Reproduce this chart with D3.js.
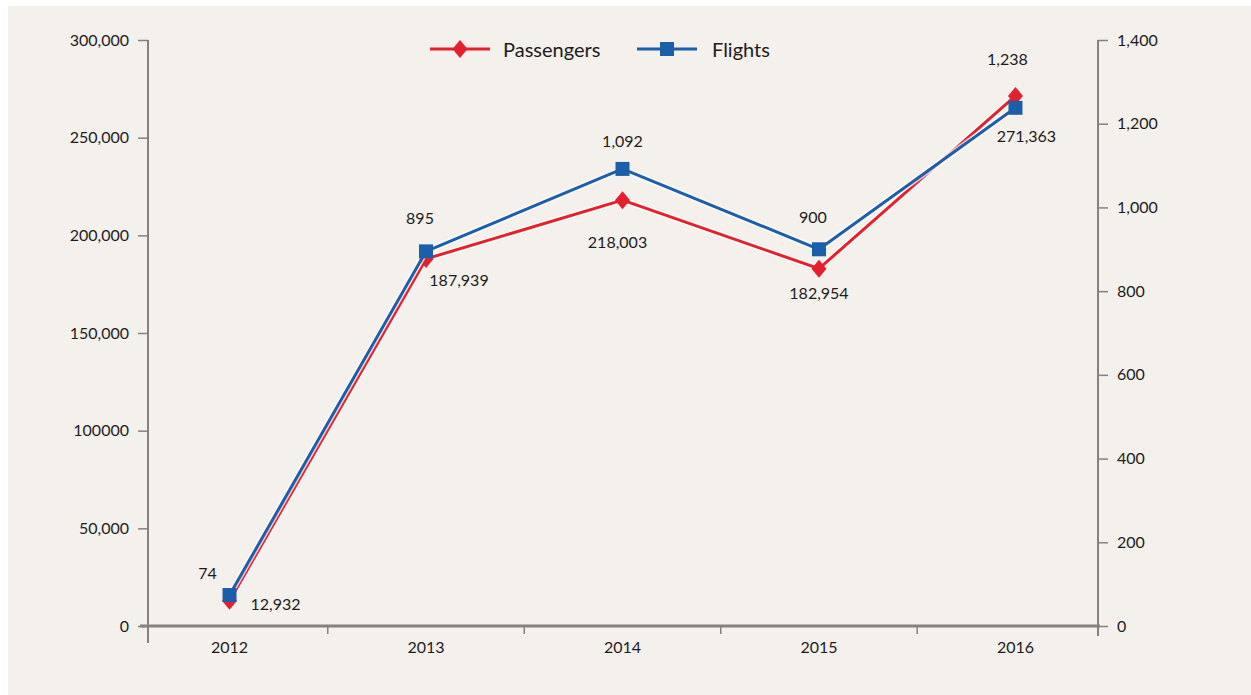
<!DOCTYPE html>
<html><head><meta charset="utf-8">
<script src="https://cdn.jsdelivr.net/npm/d3@7"></script>
<style>
body{margin:0;background:#fff}
text{font-family:Lato, "Open Sans", sans-serif;fill:#1e1b1c}
</style>
</head><body><svg id="chart" width="1251" height="695"></svg>
<script>
// Yearly passengers and flights
const years = ["2012", "2013", "2014", "2015", "2016"];
const passengers = [12932, 187939, 218003, 182954, 271363];
const flights = [74, 895, 1092, 900, 1238];
const passengerLabels = ["12,932", "187,939", "218,003", "182,954", "271,363"];
const flightLabels = ["74", "895", "1,092", "900", "1,238"];
const leftTicks = [0, 50000, 100000, 150000, 200000, 250000, 300000];
const leftTickLabels = ["0", "50,000", "100000", "150,000", "200,000", "250,000", "300,000"];
const rightTicks = [0, 200, 400, 600, 800, 1000, 1200, 1400];
const seriesNames = ["Passengers", "Flights"];

// value-label offsets from their point (layout only)
const passengerLabelOffset = [[46, 3], [33, 21], [-5, 41], [0, 24], [11, 40]];
const flightLabelOffset = [[-22, -23], [-6, -34], [0, -28], [-6, -33], [-8, -49]];

const RED = "#e5202c", BLUE = "#1b5fab", AXIS = "#84827d";

const svg = d3.select("#chart");
svg.append("rect").attr("x", 8).attr("y", 6).attr("width", 1243).attr("height", 689).attr("fill", "#f4f1ec");

const x = d3.scalePoint().domain(years).range([147, 1098]).padding(0.42);
const yL = d3.scaleLinear().domain([0, 300000]).range([626, 40]);
const yR = d3.scaleLinear().domain([0, 1400]).range([626, 40]);

// left axis
const gl = svg.append("g").attr("transform", "translate(148,0)")
  .call(d3.axisLeft(yL).tickValues(leftTicks).tickFormat((d, i) => leftTickLabels[i]).tickSize(10).tickPadding(9));
gl.select(".domain").remove();
gl.append("line").attr("x1", 0).attr("x2", 0).attr("y1", 40).attr("y2", 643).attr("stroke", AXIS).attr("stroke-width", 2);

// right axis
const gr = svg.append("g").attr("transform", "translate(1098,0)")
  .call(d3.axisRight(yR).tickValues(rightTicks).tickFormat(d3.format(",")).tickSize(10).tickPadding(9));
gr.select(".domain").remove();
gr.append("line").attr("x1", 0).attr("x2", 0).attr("y1", 40).attr("y2", 636).attr("stroke", AXIS).attr("stroke-width", 2);

[gl, gr].forEach(g => {
  g.selectAll(".tick line").attr("stroke", AXIS).attr("stroke-width", 1.5);
  g.selectAll(".tick text").style("font-size", "16px").attr("fill", "#1e1b1c");
});

// bottom axis: category labels, ticks between categories
const gx = svg.append("g").attr("transform", "translate(0,626)");
gx.append("line").attr("x1", 140).attr("x2", 1100).attr("stroke", AXIS).attr("stroke-width", 3);
const step = x.step();
gx.selectAll(".sep").data(years.slice(1)).join("line")
  .attr("x1", d => x(d) - step / 2).attr("x2", d => x(d) - step / 2)
  .attr("y1", 0).attr("y2", 8).attr("stroke", AXIS).attr("stroke-width", 1.5);
gx.selectAll(".yr").data(years).join("text")
  .attr("x", d => x(d)).attr("y", 27).attr("text-anchor", "middle")
  .style("font-size", "16px").text(d => d);

// series
const diamond = "M0,-9L7.5,0L0,9L-7.5,0Z";
const square = "M-7,-7H7V7H-7Z";

function drawSeries(values, scale, color, shape) {
  const line = d3.line().x((d, i) => x(years[i])).y(d => scale(d));
  svg.append("path").datum(values).attr("d", line).attr("fill", "none")
    .attr("stroke", "#ffffff").attr("stroke-opacity", 0.7).attr("stroke-width", 6).attr("stroke-linejoin", "round");
  svg.append("path").datum(values).attr("d", line).attr("fill", "none")
    .attr("stroke", color).attr("stroke-width", 3).attr("stroke-linejoin", "round");
  svg.selectAll(null).data(values).join("path")
    .attr("transform", (d, i) => `translate(${x(years[i])},${scale(d)})`)
    .attr("d", shape).attr("fill", color);
}
drawSeries(passengers, yL, RED, diamond);
drawSeries(flights, yR, BLUE, square);

// value labels
svg.selectAll(null).data(passengers).join("text")
  .attr("x", (d, i) => x(years[i]) + passengerLabelOffset[i][0])
  .attr("y", (d, i) => yL(d) + passengerLabelOffset[i][1])
  .attr("text-anchor", "middle").attr("dominant-baseline", "central")
  .style("font-size", "16px").text((d, i) => passengerLabels[i]);
svg.selectAll(null).data(flights).join("text")
  .attr("x", (d, i) => x(years[i]) + flightLabelOffset[i][0])
  .attr("y", (d, i) => yR(d) + flightLabelOffset[i][1])
  .attr("text-anchor", "middle").attr("dominant-baseline", "central")
  .style("font-size", "16px").text((d, i) => flightLabels[i]);

// legend
const legend = svg.append("g").attr("transform", "translate(0,49)");
const legendItems = [
  {name: seriesNames[0], color: RED, shape: diamond, x0: 430, tx: 503},
  {name: seriesNames[1], color: BLUE, shape: square, x0: 637, tx: 712}
];
legendItems.forEach(it => {
  legend.append("line").attr("x1", it.x0).attr("x2", it.x0 + 60).attr("stroke", it.color).attr("stroke-width", 3);
  legend.append("path").attr("transform", `translate(${it.x0 + 30},0)`).attr("d", it.shape).attr("fill", it.color);
  legend.append("text").attr("x", it.tx).attr("y", 0).attr("dominant-baseline", "central")
    .style("font-size", "20px").text(it.name);
});
</script>
</body></html>
